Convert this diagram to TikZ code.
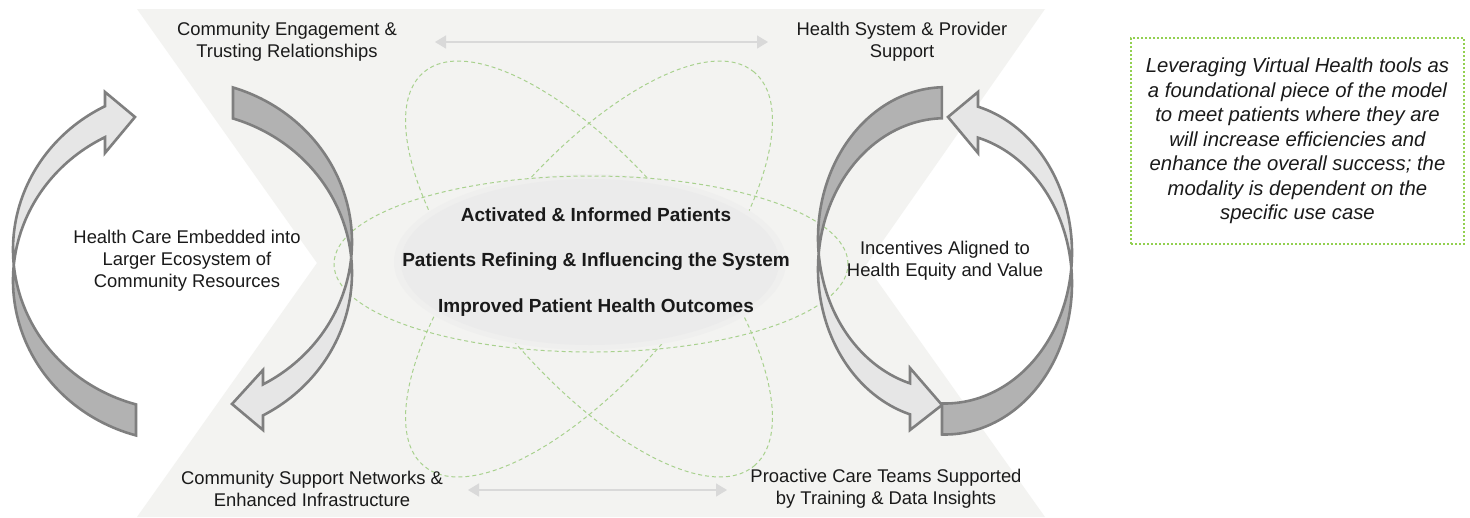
\documentclass[tikz,border=0pt]{standalone}
\usepackage{fontspec}
\setmainfont{Liberation Sans}
\usetikzlibrary{arrows.meta}

\definecolor{panel}{HTML}{F3F3F1}
\definecolor{hubedge}{HTML}{EFEFEE}
\definecolor{hubgray}{HTML}{EBEBEB}
\definecolor{faceLight}{HTML}{E6E6E6}
\definecolor{faceDark}{HTML}{B2B2B2}
\definecolor{rim}{HTML}{7F7F7F}
\definecolor{orbit}{HTML}{A9D18E}
\definecolor{notegreen}{HTML}{92D050}
\definecolor{link}{HTML}{D9D9D9}
\definecolor{ink}{HTML}{1A1A1A}

\tikzset{
  front/.style={fill=faceLight, draw=rim, line width=2.6pt, line join=miter},
  back/.style={fill=faceDark, draw=rim, line width=2.6pt, line join=miter},
  orbitline/.style={draw=orbit, line width=1pt, dash pattern=on 4pt off 3pt},
  label/.style={font=\fontsize{18.4}{22}\selectfont, text=ink, align=center, inner sep=0pt},
  core/.style={font=\fontsize{19}{22}\selectfont\bfseries, text=ink, inner sep=0pt},
  twoway/.style={draw=link, line width=1.3pt,
    {Triangle[length=11pt,width=13pt]}-{Triangle[length=11pt,width=13pt]}},
  notebox/.style={draw=notegreen, line width=2.4pt, dash pattern=on 2.4pt off 1.6pt,
    minimum width=333pt, minimum height=206pt, align=center, text=ink,
    font=\fontsize{20.3}{24.5}\selectfont\itshape},
}

\begin{document}
\begin{tikzpicture}[x=1pt, y=-1pt, samples=60]
  \useasboundingbox (0,0) rectangle (1470,517);
  \fill[white] (0,0) rectangle (1470,517);

  % hourglass-shaped backdrop
  \fill[panel] (137,9) -- (1045,9) -- (866,265) -- (1045,517) -- (137,517) -- (317,263) -- cycle;

  % tilted orbits (hidden behind the hub)
  \draw[orbitline, rotate around={-50:(589,269)}] (589,269) ellipse [x radius=257pt, y radius=104pt];
  \draw[orbitline, rotate around={50:(589,269)}] (589,269) ellipse [x radius=257pt, y radius=104pt];

  % soft grey hub
  \fill[hubedge] (590,262) ellipse [x radius=196pt, y radius=88pt];
  \fill[hubgray] (590,262) ellipse [x radius=189pt, y radius=83pt];

  % flat orbit
  \draw[orbitline] (591,264) ellipse [x radius=257pt, y radius=88pt];

  % left cycle: arrow rising on the left side
  \path[back] plot[domain=105.8:185.5] ({182+169*cos(\x)},{280.5+161*sin(\x)})
    -- plot[domain=174.5:105.8] ({182+169*cos(\x)},{249.5+161*sin(\x)}) -- cycle;
  \path[front] plot[domain=185.5:242.9] ({182+169*cos(\x)},{280.5+161*sin(\x)})
    -- (105,153) -- (135,117) -- (105,92)
    -- plot[domain=242.9:174.5] ({182+169*cos(\x)},{249.5+161*sin(\x)}) -- cycle;
  % left cycle: arrow falling on the right side
  \path[back] plot[domain=-72.54:5.49] ({182+170*cos(\x)},{242+162*sin(\x)})
    -- plot[domain=-5.49:-72.54] ({182+170*cos(\x)},{273+162*sin(\x)}) -- cycle;
  \path[front] plot[domain=-5.49:61.54] ({182+170*cos(\x)},{273+162*sin(\x)})
    -- (263,430) -- (232,404) -- (263,370)
    -- plot[domain=61.54:5.49] ({182+170*cos(\x)},{242+162*sin(\x)}) -- cycle;

  % right cycle: arrow falling on the left side
  \path[back] plot[domain=268.6:174.11] ({945+127*cos(\x)},{238.2+151*sin(\x)})
    -- plot[domain=185.89:268.6] ({945+127*cos(\x)},{269.2+151*sin(\x)}) -- cycle;
  \path[front] plot[domain=185.89:106] ({945+127*cos(\x)},{269.2+151*sin(\x)})
    -- (910,430) -- (942,405) -- (910,368)
    -- plot[domain=106:174.11] ({945+127*cos(\x)},{238.2+151*sin(\x)}) -- cycle;
  % right cycle: arrow rising on the right side
  \path[back] plot[domain=91.35:-5.89] ({945+127*cos(\x)},{283.5+151*sin(\x)})
    -- plot[domain=5.89:91.35] ({945+127*cos(\x)},{252.5+151*sin(\x)}) -- cycle;
  \path[front] plot[domain=5.89:-74.94] ({945+127*cos(\x)},{252.5+151*sin(\x)})
    -- (978,92) -- (948,117) -- (978,153)
    -- plot[domain=-74.94:-5.89] ({945+127*cos(\x)},{283.5+151*sin(\x)}) -- cycle;

  % corner labels
  \node[label] (engage) at (287,42) {Community Engagement \&\\Trusting Relationships};
  \node[label] (provider) at (902,42) {Health System \& Provider\\Support};
  \node[label] (network) at (312,489) {Community Support Networks \&\\Enhanced Infrastructure};
  \node[label] (teams) at (886,489) {Proactive Care Teams Supported\\by Training \& Data Insights};
  \node[label] (ecosys) at (187,261) {Health Care Embedded into\\Larger Ecosystem of\\Community Resources};
  \node[label] (incent) at (945,261) {Incentives Aligned to\\Health Equity and Value};

  % hub statements
  \node[core] (activated) at (596,215) {Activated \& Informed Patients};
  \node[core] (refining) at (596,262) {Patients Refining \& Influencing the System};
  \node[core] (improved) at (596,308) {Improved Patient Health Outcomes};

  % two-way links between the corners
  \coordinate (topL) at (435,42);
  \coordinate (topR) at (768,42);
  \coordinate (botL) at (468,490);
  \coordinate (botR) at (727,490);
  \draw[twoway] (topL) -- (topR);
  \draw[twoway] (botL) -- (botR);

  % side note
  \node[notebox] (virtual) at (1297.5,141) {Leveraging Virtual Health tools as\\a foundational piece of the model\\to meet patients where they are\\will increase efficiencies and\\enhance the overall success; the\\modality is dependent on the\\specific use case};
\end{tikzpicture}
\end{document}
